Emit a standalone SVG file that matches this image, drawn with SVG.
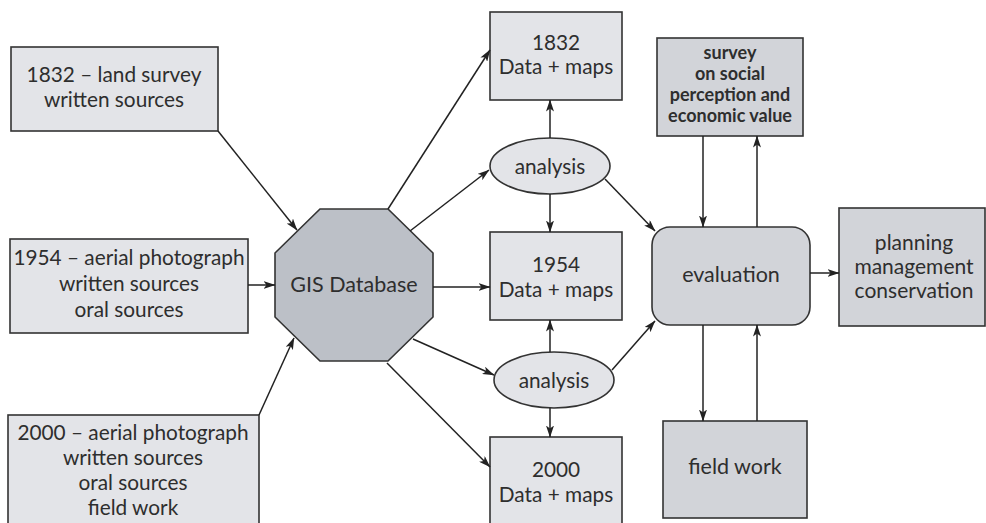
<svg xmlns="http://www.w3.org/2000/svg" width="986" height="523" viewBox="0 0 986 523">
  <defs>
    <marker id="arrow" viewBox="0 0 12 8" refX="11.5" refY="4" markerWidth="12" markerHeight="8" markerUnits="userSpaceOnUse" orient="auto">
      <path d="M0,0 L12,4 L0,8 L3,4 z" fill="#222"/>
    </marker>
  </defs>
  <style>
    .light { fill: #e3e4e8; stroke: #333; stroke-width: 1.6; }
    .mid { fill: #d2d4d9; stroke: #333; stroke-width: 1.6; }
    .dark { fill: #bcc0c7; stroke: #333; stroke-width: 1.6; }
    text { font-family: "Lato", "Open Sans", sans-serif; font-size: 20.8px; fill: #2e2e2e; text-anchor: middle; }
    .bold { font-weight: bold; font-size: 18px; }
    .big { font-size: 21px; }
    .conn line, .conn path { stroke: #222; stroke-width: 1.5; fill: none; }
    .conn .a { marker-end: url(#arrow); }
  </style>

  <!-- source boxes -->
  <g id="src1832">
    <rect class="light" x="11" y="47" width="207" height="84"/>
    <text x="114" y="82">1832 – land survey</text>
    <text x="114" y="107">written sources</text>
  </g>
  <g id="src1954">
    <rect class="light" x="10" y="239" width="238" height="94"/>
    <text x="129" y="265">1954 – aerial photograph</text>
    <text x="129" y="291">written sources</text>
    <text x="129" y="317">oral sources</text>
  </g>
  <g id="src2000">
    <rect class="light" x="8" y="415" width="251" height="120"/>
    <text x="133" y="440">2000 – aerial photograph</text>
    <text x="133" y="465">written sources</text>
    <text x="133" y="490">oral sources</text>
    <text x="133" y="515">field work</text>
  </g>

  <!-- central database -->
  <g id="gis">
    <polygon class="dark" points="320,209 388,209 433,253 433,317 388,361 320,361 275,317 275,253"/>
    <text x="354" y="292" style="font-size:21.5px">GIS Database</text>
  </g>

  <!-- data products -->
  <g id="data1832">
    <rect class="light" x="490" y="12" width="132" height="88"/>
    <text x="556" y="50">1832</text>
    <text x="556" y="74">Data + maps</text>
  </g>
  <g id="data1954">
    <rect class="light" x="490" y="232" width="132" height="88"/>
    <text x="556" y="272">1954</text>
    <text x="556" y="297">Data + maps</text>
  </g>
  <g id="data2000">
    <rect class="light" x="490" y="437" width="132" height="100"/>
    <text x="556" y="477">2000</text>
    <text x="556" y="502">Data + maps</text>
  </g>

  <!-- analysis steps -->
  <g id="analysis1">
    <ellipse class="light" cx="550" cy="166" rx="60" ry="28"/>
    <text x="550" y="174">analysis</text>
  </g>
  <g id="analysis2">
    <ellipse class="light" cx="554" cy="380" rx="60" ry="28"/>
    <text x="554" y="388">analysis</text>
  </g>

  <!-- evaluation and related -->
  <g id="survey">
    <rect class="mid" x="657" y="38" width="146" height="98"/>
    <text class="bold" x="730" y="59">survey</text>
    <text class="bold" x="730" y="80">on social</text>
    <text class="bold" x="730" y="101">perception and</text>
    <text class="bold" x="730" y="122">economic value</text>
  </g>
  <g id="evaluation">
    <rect class="mid" x="652" y="227" width="158" height="98" rx="18" ry="18"/>
    <text x="731" y="282" style="font-size:21.5px">evaluation</text>
  </g>
  <g id="planning">
    <rect class="mid" x="839" y="208" width="146" height="118"/>
    <text class="big" x="914" y="250">planning</text>
    <text class="big" x="914" y="274">management</text>
    <text class="big" x="914" y="298">conservation</text>
  </g>
  <g id="fieldwork">
    <rect class="mid" x="663" y="421" width="144" height="97"/>
    <text x="735" y="474" style="font-size:21.5px">field work</text>
  </g>

  <!-- connectors -->
  <g class="conn">
    <line class="a" x1="218" y1="131" x2="297" y2="230"/>
    <line class="a" x1="248" y1="285" x2="275" y2="285"/>
    <line class="a" x1="259" y1="415" x2="294" y2="338"/>

    <line class="a" x1="388" y1="209" x2="490" y2="50"/>
    <line class="a" x1="410" y1="231" x2="489" y2="170"/>
    <line class="a" x1="433" y1="287" x2="490" y2="287"/>
    <line class="a" x1="413" y1="339" x2="494" y2="375"/>
    <line class="a" x1="387" y1="363" x2="490" y2="467"/>

    <line class="a" x1="550" y1="138" x2="550" y2="100"/>
    <line class="a" x1="550" y1="194" x2="550" y2="232"/>
    <line class="a" x1="550" y1="352" x2="550" y2="320"/>
    <line class="a" x1="550" y1="408" x2="550" y2="437"/>

    <line class="a" x1="605" y1="179" x2="655" y2="231"/>
    <line class="a" x1="612" y1="370" x2="655" y2="321"/>

    <line class="a" x1="703" y1="136" x2="703" y2="227"/>
    <line class="a" x1="757" y1="227" x2="757" y2="136"/>
    <line class="a" x1="703" y1="325" x2="703" y2="421"/>
    <line class="a" x1="757" y1="421" x2="757" y2="325"/>
    <line class="a" x1="810" y1="273" x2="839" y2="273"/>
  </g>
</svg>
